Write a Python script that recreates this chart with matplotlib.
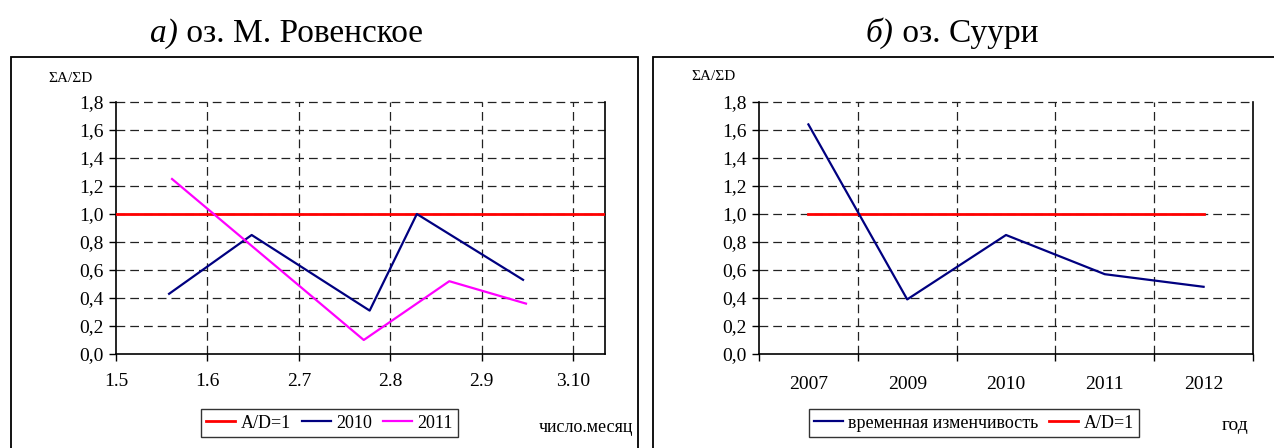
import matplotlib.pyplot as plt
from matplotlib.patches import Rectangle

plt.rcParams['font.family'] = ['Liberation Serif', 'DejaVu Serif']

# left chart: day of year -> value
DAY_TICKS = [121, 152, 183, 214, 245, 276]
DAY_LABELS = ['1.5', '1.6', '2.7', '2.8', '2.9', '3.10']
DAYS_2010 = [139, 167, 207, 223, 259]
VALS_2010 = [0.43, 0.85, 0.31, 1.00, 0.53]
DAYS_2011 = [140, 205, 234, 260]
VALS_2011 = [1.25, 0.10, 0.52, 0.36]

# right chart: yearly values
YEARS = ['2007', '2009', '2010', '2011', '2012']
VALS_YEARS = [1.64, 0.39, 0.85, 0.57, 0.48]
AD_YEARS = [1.0, 1.0, 1.0, 1.0, 1.0]

Y_TICKS = [0.0, 0.2, 0.4, 0.6, 0.8, 1.0, 1.2, 1.4, 1.6, 1.8]

W, H = 1274, 448
NAVY = '#000080'
RED = '#ff0000'
MAGENTA = '#ff00ff'
GRID = dict(color='#222222', lw=0.9, ls=(0, (7, 4)), zorder=1, clip_on=False)


def frac(x0, y0, x1, y1):
    # pixel box -> figure fraction
    return [x0 / W, 1 - y1 / H, (x1 - x0) / W, (y1 - y0) / H]


def style_axis(ax):
    ax.set_ylim(0, 1.8)
    ax.set_yticks(Y_TICKS)
    ax.set_yticklabels([f'{v:.1f}'.replace('.', ',') for v in Y_TICKS])
    for v in Y_TICKS[1:]:
        ax.axhline(v, **GRID)
    ax.spines['top'].set_visible(False)
    for s in ['left', 'bottom', 'right']:
        ax.spines[s].set_linewidth(1.2)
    ax.tick_params(axis='both', direction='out', length=5, width=1,
                   labelsize=14, pad=4)
    ax.tick_params(axis='x', pad=9)


def title(x, head, rest):
    t = fig.text(x / W, 1 - 42 / H, head, fontsize=24, style='italic', va='baseline')
    fig.add_artist(plt.Annotation(rest, xy=(1, 0), xycoords=t,
                                  va='bottom', fontsize=24))


fig = plt.figure(figsize=(W / 100, H / 100), dpi=100)

# outer frames
fig.add_artist(Rectangle((11 / W, -0.02), 627 / W, 1 - 57 / H + 0.02,
                         transform=fig.transFigure, fill=False, lw=1.3, ec='black'))
fig.add_artist(Rectangle((653 / W, -0.02), 0.5, 1 - 57 / H + 0.02,
                         transform=fig.transFigure, fill=False, lw=1.3, ec='black'))

title(150, 'а)', ' оз. М. Ровенское')
title(866, 'б)', ' оз. Суури')

# left chart
ax1 = fig.add_axes(frac(116, 102, 605, 354))
style_axis(ax1)
ax1.set_xlim(121, 121 + 5.348 * 31)
ax1.set_xticks(DAY_TICKS)
ax1.set_xticklabels(DAY_LABELS)
for d in DAY_TICKS[1:]:
    ax1.axvline(d, **GRID)
ax1.axhline(1.0, color=RED, lw=2, label='A/D=1', zorder=3)
ax1.plot(DAYS_2010, VALS_2010, color=NAVY, lw=1.6, label='2010', zorder=4)
ax1.plot(DAYS_2011, VALS_2011, color=MAGENTA, lw=1.6, label='2011', zorder=4)
leg1 = fig.legend(*ax1.get_legend_handles_labels(), loc='center',
                  bbox_to_anchor=(329.5 / W, 1 - 423 / H), ncol=3, fontsize=13,
                  frameon=True, fancybox=False, edgecolor='black',
                  handlelength=1.6, handletextpad=0.3, columnspacing=0.6,
                  borderpad=0.3, borderaxespad=0)
leg1.get_frame().set_linewidth(1)
fig.text(48 / W, 1 - 79 / H, 'ΣA/ΣD', fontsize=11, va='center')
fig.text(633 / W, 1 - 427 / H, 'число.месяц', fontsize=13, va='center', ha='right')

# right chart
ax2 = fig.add_axes(frac(759, 102, 1253, 354))
style_axis(ax2)
pos = range(len(YEARS))
ax2.set_xlim(-0.5, len(YEARS) - 0.5)
ax2.set_xticks([p - 0.5 for p in range(len(YEARS) + 1)])
ax2.set_xticklabels([])
ax2.set_xticks(list(pos), minor=True)
ax2.set_xticklabels(YEARS, minor=True)
ax2.tick_params(axis='x', which='minor', length=0, labelsize=14, pad=16)
for p in range(1, len(YEARS)):
    ax2.axvline(p - 0.5, **GRID)
ax2.plot(pos, VALS_YEARS, color=NAVY, lw=1.6, label='временная изменчивость', zorder=4)
ax2.plot(pos, AD_YEARS, color=RED, lw=2, label='A/D=1', zorder=3)
leg2 = fig.legend(*ax2.get_legend_handles_labels(), loc='center',
                  bbox_to_anchor=(974 / W, 1 - 423 / H), ncol=2, fontsize=13,
                  frameon=True, fancybox=False, edgecolor='black',
                  handlelength=1.6, handletextpad=0.3, columnspacing=0.6,
                  borderpad=0.3, borderaxespad=0)
leg2.get_frame().set_linewidth(1)
fig.text(691 / W, 1 - 77 / H, 'ΣA/ΣD', fontsize=11, va='center')
fig.text(1222 / W, 1 - 425 / H, 'год', fontsize=14, va='center', ha='left')

fig.savefig('out.png', dpi=100)
